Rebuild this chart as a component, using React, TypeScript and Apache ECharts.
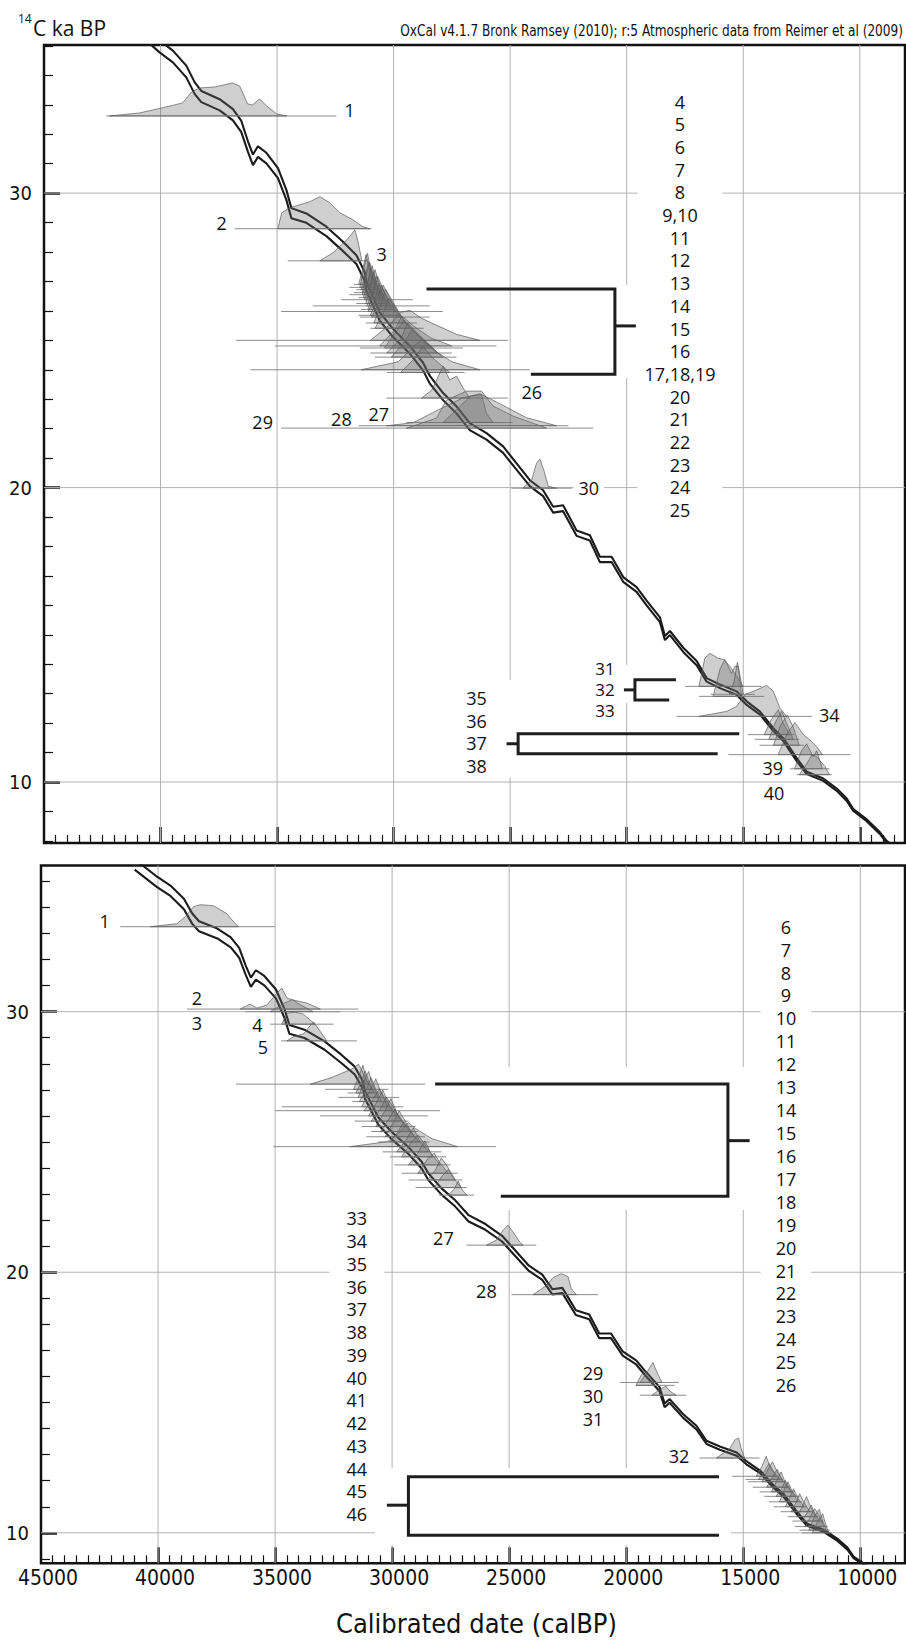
import React, { useEffect, useRef } from "react";
import * as echarts from "echarts";

const NARROW = "'Liberation Sans Narrow', 'Arial Narrow', 'DejaVu Sans Condensed', sans-serif";
const LFONT = "'Open Sans', 'Noto Sans', sans-serif";

// ---------- axes ----------
const topX = [8060, 45000];
const topY = [7.93, 35.03];
const botX = [8090, 45000];
const botY = [8.83, 35.61];
const gridCal = [10000, 15000, 20000, 25000, 30000, 35000, 40000];
const calLabels = [10000, 15000, 20000, 25000, 30000, 35000, 40000, 45000];
const gridC14 = [10, 20, 30];

// ---------- calibration curve (calBP, 14C ka BP, 1 sigma) ----------
const curveCal = [41000, 40041, 39470, 38895, 38539, 38251, 37465, 36894, 36534, 36250, 36035, 35821, 35460, 34962, 34602, 34387, 33743, 32884, 32171, 31596, 31240, 31167, 30595, 30024, 29307, 28737, 28446, 27878, 27303, 26732, 26015, 25302, 25014, 24156, 23586, 23156, 22727, 22151, 21580, 21151, 20648, 20150, 19575, 19146, 18574, 18359, 18145, 17574, 17000, 16570, 15999, 15282, 14852, 14281, 13709, 13280, 12705, 12275, 11563, 10988, 10559, 10288, 9730, 9142, 8858, 8500];
const curveC14 = [35.65, 34.98, 34.64, 34.13, 33.57, 33.28, 33.0, 32.66, 32.26, 31.58, 31.13, 31.41, 31.19, 30.68, 29.94, 29.32, 29.15, 28.7, 28.19, 27.74, 27.17, 26.83, 25.81, 25.25, 24.68, 24.11, 23.66, 23.09, 22.64, 22.07, 21.74, 21.29, 21.0, 20.15, 19.81, 19.25, 19.3, 18.45, 18.29, 17.56, 17.56, 16.88, 16.54, 16.08, 15.51, 14.89, 15.06, 14.49, 14.04, 13.47, 13.25, 13.02, 12.68, 12.34, 11.78, 11.44, 10.76, 10.31, 10.08, 9.74, 9.4, 9.06, 8.72, 8.27, 7.98, 7.75];
const curveErr = [0.2, 0.2, 0.2, 0.2, 0.2, 0.19, 0.19, 0.19, 0.19, 0.18, 0.18, 0.18, 0.18, 0.17, 0.17, 0.17, 0.16, 0.16, 0.16, 0.15, 0.15, 0.15, 0.14, 0.14, 0.13, 0.13, 0.13, 0.12, 0.12, 0.12, 0.11, 0.11, 0.11, 0.1, 0.1, 0.1, 0.1, 0.09, 0.09, 0.09, 0.09, 0.08, 0.08, 0.08, 0.08, 0.07, 0.07, 0.07, 0.07, 0.06, 0.06, 0.06, 0.06, 0.05, 0.05, 0.05, 0.05, 0.04, 0.04, 0.04, 0.04, 0.03, 0.03, 0.03, 0.03, 0.03];

// ---------- top panel: calibrated distributions ----------
const topBase = [32.62, 28.79, 27.7, 26.9, 26.8, 26.72, 26.62, 26.55, 26.45, 26.38, 26.25, 26.17, 26.05, 25.98, 25.85, 25.79, 25.59, 25.41, 25.0, 24.81, 24.74, 24.57, 24.43, 24.0, 23.91, 23.04, 22.21, 22.02, 22.1, 19.98, 13.25, 12.91, 12.98, 12.23, 11.61, 11.45, 11.25, 10.93, 10.45, 10.25];
const topCal = [
  [42188, 40900, 39955, 39054, 38668, 38324, 37680, 36907, 36607, 36263, 36049, 35748, 35448, 35018, 34589],
  [34968, 34800, 34453, 34024, 33595, 33165, 32736, 32307, 31749, 31320, 31019],
  [33165, 32607, 32006, 31663, 31534, 31362],
  [31500, 31300, 31180, 31000, 30800],
  [31450, 31250, 31120, 30950, 30750],
  [31400, 31200, 31080, 30900, 30650],
  [31350, 31150, 31020, 30850, 30600],
  [31350, 31100, 30980, 30800, 30500],
  [31300, 31050, 30920, 30750, 30450],
  [31250, 31000, 30870, 30700, 30400],
  [31200, 30950, 30800, 30600, 30300],
  [31150, 30900, 30750, 30550, 30200],
  [31100, 30850, 30680, 30450, 30100],
  [31100, 30800, 30620, 30350, 29900],
  [31000, 30700, 30520, 30250, 29800],
  [30950, 30650, 30450, 30150, 29700],
  [30850, 30550, 30350, 30000, 29500],
  [30800, 30450, 30200, 29850, 29300],
  [31000, 30200, 29700, 29300, 28800, 27300, 26300],
  [30600, 29950, 29650, 29150, 28400, 27500],
  [30400, 29850, 29550, 29050, 28300],
  [30300, 29700, 29400, 28900, 28100],
  [30100, 29500, 29200, 28700, 27900],
  [31400, 29800, 29200, 28800, 28300, 27500, 26300],
  [29700, 29100, 28750, 28300, 27600],
  [28800, 28360, 27878, 27590, 27300, 27020, 26730],
  [27880, 27160, 26730, 26230, 26015, 25730],
  [29450, 29170, 28160, 27730, 26870, 26230, 25730, 24870, 23440],
  [30300, 29160, 28160, 27020, 26300, 25440, 24300, 23010],
  [24456, 24082, 23868, 23726, 23555, 23370, 23010],
  [16900, 16650, 16430, 16070, 15860, 15570, 15280, 15000],
  [16290, 16000, 15790, 15500, 15360, 15210, 15070],
  [15600, 15400, 15250, 15150, 15000],
  [16900, 15710, 15280, 14920, 14570, 13990, 13710, 13420, 13130],
  [14100, 13800, 13490, 13300, 13000],
  [13900, 13600, 13350, 13100, 12850],
  [13700, 13400, 13100, 12850, 12600],
  [13500, 13100, 12780, 12420, 12100, 11850, 11600],
  [12800, 12500, 12280, 12000, 11850, 11600],
  [12600, 12300, 12050, 11850, 11490, 11300],
];
const topProb = [
  [0, 3, 8, 13, 24, 28, 29, 33, 30, 12, 11, 17, 10, 2, 0],
  [0, 16, 21, 24, 27, 32, 26, 16, 9, 2, 0],
  [0, 8, 21, 31, 20, 0],
  [0, 18, 30, 10, 0],
  [0, 22, 34, 14, 0],
  [0, 15, 28, 12, 0],
  [0, 20, 30, 16, 0],
  [0, 14, 26, 12, 0],
  [0, 18, 32, 15, 0],
  [0, 16, 28, 14, 0],
  [0, 20, 34, 18, 0],
  [0, 14, 30, 16, 0],
  [0, 18, 33, 20, 0],
  [0, 12, 28, 18, 0],
  [0, 16, 30, 15, 0],
  [0, 14, 32, 18, 0],
  [0, 18, 34, 20, 0],
  [0, 15, 30, 18, 0],
  [0, 15, 28, 30, 22, 6, 0],
  [0, 16, 30, 20, 8, 0],
  [0, 18, 28, 14, 0],
  [0, 14, 30, 18, 0],
  [0, 16, 28, 16, 0],
  [0, 8, 22, 30, 20, 8, 0],
  [0, 14, 26, 14, 0],
  [0, 8, 32, 18, 22, 10, 0],
  [0, 16, 26, 28, 9, 0],
  [0, 2, 10, 28, 37, 37, 22, 12, 0],
  [0, 3, 15, 28, 32, 22, 8, 0],
  [0, 8, 25, 29, 18, 2, 0],
  [0, 28, 33, 28, 27, 20, 10, 0],
  [0, 27, 37, 23, 30, 30, 0],
  [0, 12, 32, 20, 0],
  [0, 5, 10, 22, 25, 31, 25, 8, 0],
  [0, 15, 25, 12, 0],
  [0, 18, 28, 14, 0],
  [0, 20, 30, 18, 0],
  [0, 22, 32, 20, 14, 8, 0],
  [0, 18, 25, 12, 18, 0],
  [0, 10, 20, 18, 8, 0],
];
const topRange = [
  [42330, 32455], [36821, 30952], [34546, 31111], [31700, 30900], [31900, 30800], [31600, 30700], [31700, 30600], [31900, 30500], [31500, 30600], [32240, 29180],
  [31600, 30300], [33470, 28450], [31400, 30000], [34820, 27890], [31500, 29700], [31450, 28450], [31200, 29000], [31000, 28700], [36750, 25090], [35100, 25590],
  [31450, 27030], [31000, 27500], [30800, 27300], [36150, 24160], [30300, 26950], [30310, 25090], [29450, 24890], [34820, 21440], [31500, 22500], [24942, 22366],
  [17495, 14207], [16900, 14100], [16400, 14500], [17860, 12060], [14800, 12800], [14500, 12600], [14300, 12400], [15640, 10400], [13000, 11300], [12700, 11200],
];

// ---------- bottom panel: calibrated distributions ----------
const botBase = [33.26, 30.1, 30.0, 29.52, 28.88, 27.22, 27.02, 26.88, 26.71, 26.55, 26.35, 26.2, 26.0, 25.8, 25.59, 25.4, 25.2, 25.0, 24.82, 24.62, 24.43, 24.12, 23.8, 23.54, 23.25, 22.96, 21.04, 19.14, 15.77, 15.66, 15.28, 12.87, 12.17, 12.05, 11.96, 11.75, 11.57, 11.4, 11.19, 11.0, 10.81, 10.62, 10.45, 10.24, 10.1, 10.0];
const botCal = [
  [40333, 39193, 38838, 38484, 38198, 37630, 37058, 36776, 36563],
  [36490, 36063, 35777, 35350, 34923, 34710, 34496, 34214, 33642, 33073],
  [35209, 34654, 34270, 33928, 33373],
  [34710, 34496, 34141, 33787, 33501, 33288],
  [34496, 34214, 33787, 33360, 33147, 32788],
  [33500, 32650, 31930, 31650, 31440, 31230, 31080, 30940],
  [31650, 31400, 31250, 31100, 30850],
  [31550, 31300, 31150, 31000, 30750],
  [31450, 31200, 31000, 30850, 30600],
  [31400, 31100, 30900, 30700, 30450],
  [31300, 31000, 30700, 30500, 30200],
  [31200, 30850, 30550, 30350, 30000],
  [31000, 30650, 30400, 30150, 29800],
  [30900, 30500, 30250, 30000, 29600],
  [30700, 30300, 30050, 29800, 29400],
  [30500, 30150, 29900, 29650, 29250],
  [30300, 29950, 29700, 29450, 29050],
  [30100, 29750, 29500, 29250, 28850],
  [31800, 30200, 29700, 29300, 29000, 28300, 27200],
  [29800, 29400, 29100, 28850, 28450],
  [29600, 29200, 28900, 28650, 28250],
  [29300, 28900, 28600, 28350, 27950],
  [28900, 28500, 28200, 27950, 27600],
  [28500, 28150, 27900, 27650, 27300],
  [28200, 27850, 27600, 27400, 27050],
  [27600, 27350, 27180, 27000, 26800],
  [25973, 25546, 25260, 25047, 24833, 24547, 24406],
  [23979, 23411, 23125, 22771, 22485, 22344, 22130],
  [19410, 19068, 18855, 18684, 18470],
  [19581, 19368, 19197, 18983, 18770],
  [18898, 18556, 18300, 18129, 17873],
  [16152, 15580, 15367, 15196, 15085, 14939],
  [14450, 14200, 14020, 13850, 13600],
  [14350, 14100, 13900, 13700, 13450],
  [14200, 13950, 13750, 13550, 13300],
  [14000, 13750, 13550, 13350, 13100],
  [13800, 13550, 13380, 13200, 12950],
  [13600, 13350, 13200, 13000, 12750],
  [13450, 13250, 13090, 12900, 12650],
  [13200, 13000, 12850, 12650, 12400],
  [12950, 12750, 12590, 12400, 12150],
  [12700, 12480, 12300, 12120, 11900],
  [12500, 12280, 12100, 11950, 11750],
  [12350, 12130, 11950, 11780, 11550],
  [12200, 11950, 11750, 11650, 11450],
  [12050, 11800, 11600, 11500, 11350],
];
const botProb = [
  [0, 3, 10, 20, 22, 21, 13, 5, 0],
  [0, 5, 1, 4, 16, 21, 11, 9, 6, 0],
  [0, 8, 12, 7, 0],
  [0, 11, 12, 10, 4, 0],
  [0, 4, 7, 19, 12, 0],
  [0, 6, 13, 16, 20, 11, 2, 0],
  [0, 14, 24, 10, 0],
  [0, 12, 22, 12, 0],
  [0, 16, 26, 14, 0],
  [0, 12, 24, 12, 0],
  [0, 14, 28, 16, 0],
  [0, 10, 22, 14, 0],
  [0, 14, 26, 12, 0],
  [0, 12, 24, 16, 0],
  [0, 16, 28, 14, 0],
  [0, 12, 22, 12, 0],
  [0, 14, 26, 16, 0],
  [0, 10, 20, 12, 0],
  [0, 5, 14, 24, 18, 8, 0],
  [0, 12, 24, 12, 0],
  [0, 14, 22, 14, 0],
  [0, 12, 24, 12, 0],
  [0, 14, 20, 10, 0],
  [0, 10, 22, 14, 0],
  [0, 12, 18, 10, 0],
  [0, 6, 14, 5, 0],
  [0, 5, 15, 20, 13, 3, 0],
  [0, 9, 17, 21, 18, 6, 0],
  [0, 12, 20, 10, 0],
  [0, 10, 14, 8, 0],
  [0, 6, 9, 4, 0],
  [0, 9, 18, 20, 9, 0],
  [0, 10, 20, 9, 0],
  [0, 8, 16, 8, 0],
  [0, 12, 20, 10, 0],
  [0, 10, 18, 8, 0],
  [0, 12, 20, 9, 0],
  [0, 8, 16, 7, 0],
  [0, 12, 20, 10, 0],
  [0, 10, 18, 8, 0],
  [0, 9, 18, 9, 0],
  [0, 10, 20, 10, 0],
  [0, 8, 16, 8, 0],
  [0, 10, 18, 12, 0],
  [0, 14, 21, 12, 0],
  [0, 12, 19, 10, 0],
];
const botRange = [
  [41614, 34996], [38766, 31439], [36277, 32220], [35209, 32506], [34739, 31507], [36670, 28590], [32860, 30170], [31900, 30400], [32300, 29700], [31700, 30100],
  [34710, 29530], [35000, 27950], [33070, 28460], [31600, 29300], [31300, 29000], [30900, 28900], [31100, 28600], [30600, 28400], [35080, 25560], [30400, 27900],
  [30100, 27700], [29900, 27500], [29600, 27200], [29300, 27000], [29000, 26800], [28000, 26500], [26827, 23838], [24906, 21204], [20277, 17745], [19594, 17928],
  [19423, 17433], [16861, 14299], [15470, 13500], [14900, 13300], [14800, 13200], [14600, 13000], [14300, 12800], [14100, 12600], [13900, 12500], [13700, 12300],
  [13400, 12000], [13100, 11800], [12900, 11600], [12800, 11400], [12600, 11300], [12500, 11200],
];

// ---------- labels ----------
// [text, calBP, 14C ka, white-box padding (-1 = none)]
const topLabels = [["1", 31884, 32.83, -1], ["2", 37379, 28.98, -1], ["3", 30510, 27.94, -1], ["26", 24070, 23.26, -1], ["27", 30639, 22.51, -1], ["28", 32240, 22.34, -1], ["29", 35619, 22.24, -1], ["30", 21623, 19.98, 5], ["34", 11306, 12.29, -1], ["39", 13735, 10.48, -1], ["40", 13680, 9.63, -1]];
const botLabels = [["1", 42284, 33.48, -1], ["2", 38339, 30.51, -1], ["3", 38339, 29.55, -1], ["4", 35751, 29.49, -1], ["5", 35521, 28.66, -1], ["27", 27809, 21.3, -1], ["28", 25973, 19.29, -1], ["32", 17745, 12.94, -1]];
const topColA = ["4", "5", "6", "7", "8", "9,10", "11", "12", "13", "14", "15", "16", "17,18,19", "20", "21", "22", "23", "24", "25"];
const topColB = ["31", "32", "33"];
const topColC = ["35", "36", "37", "38"];
const botColA = ["6", "7", "8", "9", "10", "11", "12", "13", "14", "15", "16", "17", "18", "19", "20", "21", "22", "23", "24", "25", "26"];
const botColB = ["29", "30", "31"];
const botColC = ["33", "34", "35", "36", "37", "38", "39", "40", "41", "42", "43", "44", "45", "46"];
// [lines, calBP, 14C ka of first line, line height, white-box padding (-1 none), font size]
const topCols = [[topColA, 17715, 33.11, 22.7, 7, 18], [topColB, 20936, 13.87, 21, -1, 17], [topColC, 26444, 12.85, 22.6, -1, 18]];
const botCols = [[botColA, 13176, 33.26, 22.92, 15, 18], [botColB, 21417, 16.14, 23, -1, 18], [botColC, 31507, 22.07, 22.75, 17, 18]];

// white boxes [cal1, ka1, cal2, ka2]
const topMasks = [[20289, 26.89, 19688, 23.73], [20289, 13.98, 19432, 12.69], [25444, 13.47, 24370, 10.15]];
const botMasks = [[28164, 27.88, 14640, 22.39], [30726, 12.48, 15524, 9.53]];

// brackets [calStub, calVertical, calTopEnd, calBottomEnd, kaTop, kaBottom, kaStub]
const topBrackets = [[19605, 20506, 28590, 24112, 26.74, 23.85, 25.49], [20120, 19647, 17887, 18175, 13.47, 12.79, 13.13], [25156, 24658, 15170, 16097, 11.64, 10.96, 11.3]];
const botBrackets = [[14726, 15655, 28164, 25358, 27.22, 22.92, 25.05], [30226, 29304, 16037, 16037, 12.15, 9.91, 11.06]];

// ---------- helpers ----------
function minorCal(): number[] {
  const out: number[] = [];
  for (let v = 8500; v < 45000; v += 500) if (v % 5000 !== 0) out.push(v);
  return out;
}
function minorKa(lo: number, hi: number): number[] {
  const out: number[] = [];
  for (let v = Math.ceil(lo); v <= hi; v++) if (v % 10 !== 0) out.push(v);
  return out;
}

function axesFor(gi: number, xr: number[], yr: number[], labels: boolean) {
  const baseX: any = {
    type: "value", gridIndex: gi, min: xr[0], max: xr[1], inverse: true, position: "bottom", offset: 0,
    axisLine: { show: false, onZero: false }, splitLine: { show: false },
  };
  const xMajor: any = {
    ...baseX,
    axisTick: { show: true, inside: true, length: 16, customValues: gridCal, lineStyle: { color: "#111", width: 2.5 } },
    axisLabel: labels
      ? { show: true, customValues: calLabels, color: "#111", fontSize: 21, fontFamily: NARROW, margin: 4, padding: [0, 0, 0, 14], formatter: (v: number) => String(v) }
      : { show: false },
  };
  const xMinor: any = {
    ...baseX,
    axisTick: { show: true, inside: true, length: 8, customValues: minorCal(), lineStyle: { color: "#111", width: 1.2 } },
    axisLabel: { show: false },
  };
  const baseY: any = {
    type: "value", gridIndex: gi, min: yr[0], max: yr[1], position: "left", offset: 0,
    axisLine: { show: false, onZero: false }, splitLine: { show: false },
  };
  const yMajor: any = {
    ...baseY,
    axisTick: { show: true, inside: true, length: 16, customValues: gridC14, lineStyle: { color: "#111", width: 2.5 } },
    axisLabel: { show: false },
  };
  const yMinor: any = {
    ...baseY,
    axisTick: { show: true, inside: true, length: 9, customValues: minorKa(yr[0], yr[1]), lineStyle: { color: "#111", width: 1.2 } },
    axisLabel: { show: false },
  };
  return { x: [xMajor, xMinor], y: [yMajor, yMinor] };
}

function panelSeries(ax: number, xr: number[], yr: number[], base: number[], cals: number[][], probs: number[][], ranges: number[][], labels: any[], cols: any[], masks: number[][], brackets: number[][]) {
  const common = { xAxisIndex: ax, yAxisIndex: ax, silent: true };
  const gridSeries = {
    ...common, type: "custom", z: 1, data: [[20000, 20]],
    renderItem: (_p: any, api: any) => {
      const children: any[] = [];
      gridCal.forEach((c) => {
        const a = api.coord([c, yr[0]]); const b = api.coord([c, yr[1]]);
        children.push({ type: "line", shape: { x1: a[0], y1: a[1], x2: b[0], y2: b[1] }, style: { stroke: "#b2b2b2", lineWidth: 1 } });
      });
      gridC14.forEach((k) => {
        const a = api.coord([xr[0], k]); const b = api.coord([xr[1], k]);
        children.push({ type: "line", shape: { x1: a[0], y1: a[1], x2: b[0], y2: b[1] }, style: { stroke: "#b2b2b2", lineWidth: 1 } });
        // y tick label, right-aligned just outside the frame
        children.push({ type: "text", x: b[0] - 12, y: b[1], style: { text: String(k), fill: "#111", fontSize: 20, fontFamily: NARROW, align: "right", verticalAlign: "middle" } });
      });
      return { type: "group", children };
    },
  };
  const maskSeries = {
    ...common, type: "custom", z: 2, data: masks.map((m) => [m[0], m[1]]),
    renderItem: (p: any, api: any) => {
      const m = masks[p.dataIndex];
      const a = api.coord([m[0], m[1]]); const b = api.coord([m[2], m[3]]);
      return { type: "rect", shape: { x: Math.min(a[0], b[0]), y: Math.min(a[1], b[1]), width: Math.abs(b[0] - a[0]), height: Math.abs(b[1] - a[1]) }, style: { fill: "#fff" } };
    },
  };
  const upper = curveCal.map((c, i) => [c, curveC14[i] + curveErr[i]]);
  const lower = curveCal.map((c, i) => [c, curveC14[i] - curveErr[i]]);
  const curveStyle = { color: "#1b1b1b", width: 2.1 };
  const curves = [upper, lower].map((d) => ({
    ...common, type: "line", z: 3, data: d, showSymbol: false, symbol: "none", lineStyle: curveStyle, clip: true,
  }));
  const distSeries = {
    ...common, type: "custom", z: 4, data: base.map((b, i) => [cals[i][0], b]),
    renderItem: (p: any, api: any) => {
      const i = p.dataIndex;
      const b = base[i];
      const pts = cals[i].map((c, k) => { const q = api.coord([c, b]); return [q[0], q[1] - probs[i][k]]; });
      const r0 = api.coord([ranges[i][0], b]); const r1 = api.coord([ranges[i][1], b]);
      return {
        type: "group",
        children: [
          { type: "line", shape: { x1: r0[0], y1: r0[1], x2: r1[0], y2: r1[1] }, style: { stroke: "#8c8c8c", lineWidth: 1 } },
          { type: "polygon", shape: { points: pts }, style: { fill: "rgba(105,105,105,0.32)", stroke: "#5c5c5c", lineWidth: 0.7 } },
        ],
      };
    },
  };
  const bracketSeries = {
    ...common, type: "custom", z: 5, data: brackets.map((br) => [br[1], br[6]]),
    renderItem: (p: any, api: any) => {
      const br = brackets[p.dataIndex];
      const pts = [api.coord([br[2], br[4]]), api.coord([br[1], br[4]]), api.coord([br[1], br[5]]), api.coord([br[3], br[5]])];
      const s0 = api.coord([br[0], br[6]]); const s1 = api.coord([br[1], br[6]]);
      const st = { stroke: "#1e1e1e", lineWidth: 3, fill: null };
      return { type: "group", children: [
        { type: "polyline", shape: { points: pts }, style: st },
        { type: "line", shape: { x1: s0[0], y1: s0[1], x2: s1[0], y2: s1[1] }, style: st },
      ] };
    },
  };
  const labelSeries = {
    ...common, type: "custom", z: 6, data: labels.map((l) => [l[1], l[2]]),
    renderItem: (p: any, api: any) => {
      const l = labels[p.dataIndex];
      const q = api.coord([l[1], l[2]]);
      const style: any = { text: l[0], fill: "#111", fontSize: 18, fontFamily: LFONT, align: "center", verticalAlign: "middle" };
      if (l[3] >= 0) { style.backgroundColor = "#fff"; style.padding = [1, l[3]]; }
      return { type: "text", x: q[0], y: q[1], style };
    },
  };
  const colSeries = {
    ...common, type: "custom", z: 6, data: cols.map((c) => [c[1], c[2]]),
    renderItem: (p: any, api: any) => {
      const c = cols[p.dataIndex];
      const q = api.coord([c[1], c[2]]);
      const style: any = { text: c[0].join("\n"), fill: "#111", fontSize: c[5], fontFamily: LFONT, align: "center", verticalAlign: "top", lineHeight: c[3] };
      if (c[4] >= 0) { style.backgroundColor = "#fff"; style.padding = [0, c[4]]; }
      return { type: "text", x: q[0], y: q[1] - c[3] / 2, style };
    },
  };
  return [gridSeries, maskSeries, ...curves, distSeries, bracketSeries, labelSeries, colSeries];
}

function buildOption() {
  const a0 = axesFor(0, topX, topY, false);
  const a1 = axesFor(1, botX, botY, true);
  return {
    animation: false,
    backgroundColor: "#fff",
    grid: [
      { left: 44, top: 45, width: 861, height: 798, show: true, borderColor: "#111", borderWidth: 2.5, backgroundColor: "transparent" },
      { left: 41, top: 865.5, width: 864, height: 697.8, show: true, borderColor: "#111", borderWidth: 2.5, backgroundColor: "transparent" },
    ],
    xAxis: [a0.x[0], a0.x[1], a1.x[0], a1.x[1]],
    yAxis: [a0.y[0], a0.y[1], a1.y[0], a1.y[1]],
    graphic: [
      { type: "text", x: 18, y: 18, style: { text: "14", fill: "#111", fontSize: 12, fontFamily: LFONT, verticalAlign: "middle" } },
      { type: "text", x: 33, y: 28, style: { text: "C ka BP", fill: "#111", fontSize: 21, fontFamily: LFONT, verticalAlign: "middle" } },
      { type: "text", x: 903, y: 31, scaleX: 0.9, style: { text: "OxCal v4.1.7 Bronk Ramsey (2010); r:5 Atmospheric data from Reimer et al (2009)", fill: "#111", fontSize: 15, fontFamily: NARROW, align: "right", verticalAlign: "middle" } },
      { type: "text", left: 336, top: 1610, style: { text: "Calibrated date (calBP)", fill: "#111", fontSize: 27, fontFamily: NARROW } },
    ],
    series: [
      ...panelSeries(0, topX, topY, topBase, topCal, topProb, topRange, topLabels, topCols, topMasks, topBrackets),
      ...panelSeries(2, botX, botY, botBase, botCal, botProb, botRange, botLabels, botCols, botMasks, botBrackets),
    ],
  };
}

export default function App() {
  const ref = useRef<HTMLDivElement>(null);
  useEffect(() => {
    if (!ref.current) return;
    const chart = echarts.init(ref.current, undefined, { renderer: "svg" });
    chart.setOption(buildOption() as any);
    return () => chart.dispose();
  }, []);
  return <div ref={ref} style={{ position: "absolute", left: 0, top: 0, width: 906, height: 1641, background: "#fff" }} />;
}
